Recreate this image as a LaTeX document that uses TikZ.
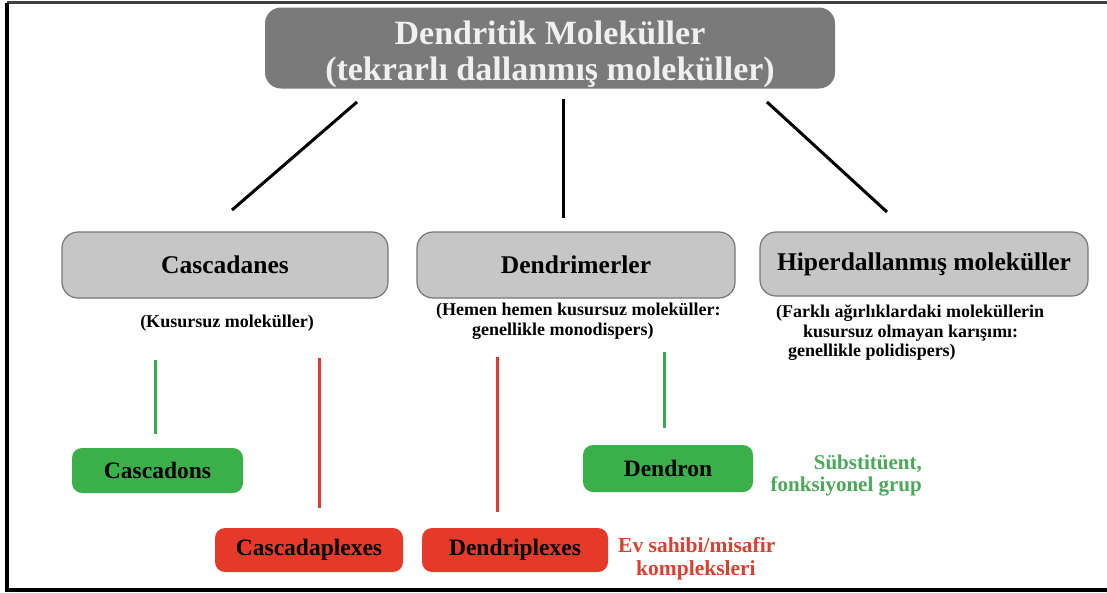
\documentclass[tikz,border=0pt]{standalone}
\usepackage{fontspec}
\setmainfont{Liberation Serif}
\definecolor{topgray}{HTML}{7A7A7A}
\definecolor{toptext}{HTML}{F0F0F0}
\definecolor{midgray}{HTML}{C6C6C6}
\definecolor{midedge}{HTML}{777777}
\definecolor{boxgreen}{HTML}{3AAF4A}
\definecolor{boxred}{HTML}{E53A2A}
\definecolor{txtgreen}{HTML}{4AA85A}
\definecolor{txtred}{HTML}{D8412F}
\definecolor{linegreen}{HTML}{3AAA50}
\definecolor{linered}{HTML}{DE3A30}
\begin{document}
\begin{tikzpicture}[x=1pt,y=-1pt,
  topbox/.style={fill=topgray, rounded corners=16pt, inner sep=0pt},
  toplabel/.style={text=toptext, font=\bfseries\fontsize{34}{36}\selectfont, align=center, inner sep=0pt},
  midbox/.style={draw=midedge, line width=1.2pt, fill=midgray, rounded corners=16pt, font=\bfseries\fontsize{25.5}{27}\selectfont, inner sep=0pt},
  gbox/.style={fill=boxgreen, rounded corners=10pt, font=\bfseries\fontsize{23.5}{25}\selectfont, inner sep=0pt},
  rbox/.style={fill=boxred, rounded corners=10pt, font=\bfseries\fontsize{23.5}{25}\selectfont, inner sep=0pt},
  subtext/.style={font=\bfseries\fontsize{18}{19.5}\selectfont, inner sep=0pt},
  blackline/.style={draw=black, line width=3pt},
  greenline/.style={draw=linegreen, line width=3pt},
  redline/.style={draw=linered, line width=3pt},
  frameline/.style={line width=3.5pt}
]
\useasboundingbox (0,0) rectangle (1107,592);
% frame
\coordinate (fTL) at (7,2.5);
\coordinate (fTR) at (1107,2.5);
\coordinate (fBL) at (7,590);
\coordinate (fBR) at (1107,590);
\draw[frameline, draw=black!75] (fTL) -- (fTR);
\draw[frameline, draw=black] (fTL) -- (fBL) -- (fBR);

% top
\node[topbox, minimum width=570pt, minimum height=81pt] (top) at (550,48) {};
\node[toplabel] (toptxt) at (550,54) {Dendritik Moleküller\\(tekrarlı dallanmış moleküller)};

% middle row
\node[midbox, minimum width=326pt, minimum height=66pt] (casc) at (225,265) {Cascadanes};
\node[midbox, minimum width=318pt, minimum height=66pt] (dend) at (576,265) {Dendrimerler};
\node[midbox, minimum width=328pt, minimum height=64pt] (hyp) at (924,264) {Hiperdallanmış moleküller};

\node[subtext] (cascsub) at (227,323) {(Kusursuz moleküller)};
\node[subtext, anchor=west, align=left] (dendsub) at (436,321)
  {(Hemen hemen kusursuz moleküller:\\\hspace*{36pt}genellikle monodispers)};
\node[subtext, anchor=west, align=left] (hypsub) at (776,333)
  {(Farklı ağırlıklardaki moleküllerin\\\hspace*{27pt}kusursuz olmayan karışımı:\\\hspace*{12pt}genellikle polidispers)};

% bottom boxes
\node[gbox, minimum width=171pt, minimum height=45pt] (cascadons) at (157.5,470.5) {Cascadons};
\node[gbox, minimum width=170pt, minimum height=47pt] (dendron) at (668,468.5) {Dendron};
\node[rbox, minimum width=188pt, minimum height=44pt] (cascplex) at (309,550) {Cascadaplexes};
\node[rbox, minimum width=186pt, minimum height=44pt] (dendplex) at (515,550) {Dendriplexes};

% side labels
\node[font=\bfseries\fontsize{21}{22}\selectfont, text=txtgreen, align=right, inner sep=0pt, anchor=east] (sub) at (922,476)
  {Sübstitüent,\\fonksiyonel grup};
\node[font=\bfseries\fontsize{21.5}{23}\selectfont, text=txtred, align=left, inner sep=0pt, anchor=west] (host) at (618,559)
  {Ev sahibi/misafir\\\hspace*{18pt}kompleksleri};

% connectors top -> middle
\coordinate (a1) at (357,102); \coordinate (a2) at (232,210);
\coordinate (b1) at (563,99);  \coordinate (b2) at (563,218);
\coordinate (c1) at (767,102); \coordinate (c2) at (887,212);
\draw[blackline] (a1) -- (a2);
\draw[blackline] (b1) -- (b2);
\draw[blackline] (c1) -- (c2);

% connectors middle -> bottom
\coordinate (g1a) at (155,360); \coordinate (g1b) at (155,434);
\coordinate (r1a) at (319,358); \coordinate (r1b) at (319,508);
\coordinate (r2a) at (497,357); \coordinate (r2b) at (497,512);
\coordinate (g2a) at (664,352); \coordinate (g2b) at (664,428);
\draw[greenline] (g1a) -- (g1b);
\draw[redline] (r1a) -- (r1b);
\draw[redline] (r2a) -- (r2b);
\draw[greenline] (g2a) -- (g2b);
\end{tikzpicture}
\end{document}
